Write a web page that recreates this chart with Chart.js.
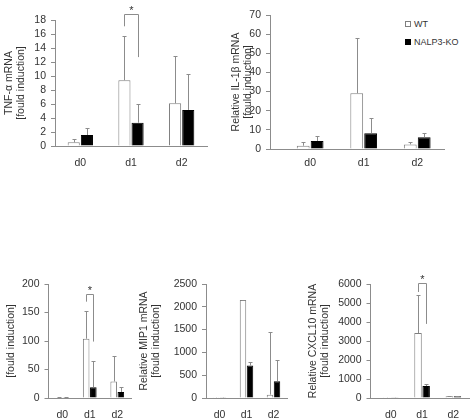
<!DOCTYPE html>
<html>
<head>
<meta charset="utf-8">
<script src="https://cdn.jsdelivr.net/npm/chart.js@4.4.1/dist/chart.umd.min.js"></script>
<style>
body { margin: 0; background: #fff; width: 471px; height: 420px; overflow: hidden; position: relative; font-family: "Liberation Sans", Arial, sans-serif; }
canvas { position: absolute; }
.legend { position: absolute; left: 405px; top: 15px; font-size: 9px; color: #333; line-height: 18px; }
.legend span { display: inline-block; width: 4px; height: 4px; border: 1px solid #7f7f7f; margin-right: 3px; vertical-align: middle; position: relative; top: -1px; }
</style>
</head>
<body>
<div class="legend" id="legend"></div>
<script>
// categories and series
var days = ["d0", "d1", "d2"];
var groups = ["WT", "NALP3-KO"];

// TNF-a
var tnfWt = [0.52, 9.4, 6.1];
var tnfWtSd = [0.45, 6.3, 6.8];
var tnfKo = [1.57, 3.33, 5.15];
var tnfKoSd = [0.95, 2.7, 5.15];

// IL-1b
var il1Wt = [1.7, 29.1, 2.4];
var il1WtSd = [1.8, 28.7, 1.4];
var il1Ko = [4.2, 8.2, 6.1];
var il1KoSd = [2.6, 7.8, 2.1];

// bottom left (label cut off)
var g3Wt = [0.8, 104, 29];
var g3WtSd = [0.3, 49, 44];
var g3Ko = [1.5, 18.7, 10.5];
var g3KoSd = [0.5, 46, 9.5];

// MIP1
var mipWt = [5, 2147, 74];
var mipWtSd = [3, 10, 1380];
var mipKo = [6, 713, 368];
var mipKoSd = [3, 87, 456];

// CXCL10
var cxWt = [10, 3420, 90];
var cxWtSd = [5, 2000, 20];
var cxKo = [10, 630, 90];
var cxKoSd = [5, 130, 20];

// significance brackets: [day index, top, left leg end, right leg end]
var tnfSig = [1, 18.9, 17.1, 12.7];
var g3Sig = [1, 182, 169, 99];
var cxSig = [1, 6050, 5580, 3900];

Chart.defaults.font.family = '"Liberation Sans", Arial, sans-serif';
Chart.defaults.font.size = 10;
Chart.defaults.color = '#333333';

var axisGrey = '#8c8c8c';

var errorBars = {
    id: 'errorBars',
    afterDatasetsDraw: function(chart) {
        var ctx = chart.ctx, y = chart.scales.y;
        ctx.save();
        ctx.strokeStyle = axisGrey;
        ctx.lineWidth = 1;
        chart.data.datasets.forEach(function(ds, i) {
            chart.getDatasetMeta(i).data.forEach(function(bar, j) {
                var top = Math.round(y.getPixelForValue(ds.data[j].y + ds.sd[j])) + 0.5;
                var x = Math.round(bar.x) + 0.5;
                ctx.beginPath();
                ctx.moveTo(x, bar.y);
                ctx.lineTo(x, top);
                ctx.moveTo(x - 2, top);
                ctx.lineTo(x + 2, top);
                ctx.stroke();
            });
        });
        ctx.restore();
    }
};

var sigBracket = {
    id: 'sigBracket',
    afterDatasetsDraw: function(chart, args, opts) {
        if (!opts.sig) return;
        var s = opts.sig, ctx = chart.ctx, y = chart.scales.y;
        var x1 = Math.round(chart.getDatasetMeta(0).data[s[0]].x) + 0.5;
        var x2 = Math.round(chart.getDatasetMeta(1).data[s[0]].x) + 0.5;
        var yt = Math.round(y.getPixelForValue(s[1])) + 0.5;
        ctx.save();
        ctx.strokeStyle = axisGrey;
        ctx.lineWidth = 1;
        ctx.beginPath();
        ctx.moveTo(x1, y.getPixelForValue(s[2]));
        ctx.lineTo(x1, yt);
        ctx.lineTo(x2, yt);
        ctx.lineTo(x2, y.getPixelForValue(s[3]));
        ctx.stroke();
        ctx.fillStyle = '#333333';
        ctx.font = '11px "Liberation Sans", Arial, sans-serif';
        ctx.textAlign = 'center';
        ctx.textBaseline = 'alphabetic';
        ctx.fillText('*', (x1 + x2) / 2, yt - 1);
        ctx.restore();
    }
};

function makeChart(cfg) {
    var padTop = 16, padRight = 6, xh = 30;
    var left = cfg.titleX - 6;
    var top = cfg.area[1] - padTop;
    var yw = cfg.area[0] - left;
    var cv = document.createElement('canvas');
    cv.width = Math.round(cfg.area[2] + padRight - left);
    cv.height = Math.round(cfg.area[3] + xh - top);
    cv.style.left = left + 'px';
    cv.style.top = top + 'px';
    document.body.appendChild(cv);

    new Chart(cv.getContext('2d'), {
        type: 'bar',
        data: {
            datasets: [{
                label: groups[0],
                data: cfg.wt.map(function(v, i) { return {x: i, y: v}; }),
                sd: cfg.wtSd,
                backgroundColor: '#ffffff',
                borderColor: '#7f7f7f',
                borderWidth: 1
            }, {
                label: groups[1],
                data: cfg.ko.map(function(v, i) { return {x: i, y: v}; }),
                sd: cfg.koSd,
                backgroundColor: '#000000',
                borderColor: '#000000',
                borderWidth: 1
            }]
        },
        options: {
            responsive: false,
            animation: false,
            events: [],
            categoryPercentage: 0.52,
            barPercentage: 0.92,
            layout: { padding: { top: padTop, right: padRight, left: 0, bottom: 0 } },
            plugins: {
                legend: { display: false },
                tooltip: { enabled: false },
                sigBracket: { sig: cfg.sig || null }
            },
            scales: {
                x: {
                    type: 'linear',
                    offset: false,
                    min: cfg.xMin,
                    max: 2.5,
                    afterBuildTicks: function(s) { s.ticks = days.map(function(d, i) { return {value: i}; }); },
                    afterFit: function(s) { s.height = xh; },
                    ticks: { callback: function(v) { return days[v]; }, padding: cfg.xPad, autoSkip: false, maxRotation: 0, font: { size: 10.5 } },
                    grid: { display: false, drawTicks: false, offset: false },
                    border: { color: axisGrey }
                },
                y: {
                    min: 0,
                    max: cfg.yMax,
                    afterFit: function(s) { s.width = yw; },
                    ticks: { stepSize: cfg.step, padding: 5, autoSkip: false, font: { size: 10.5 }, callback: function(v) { return String(v); } },
                    grid: { drawOnChartArea: false, tickLength: 4, color: axisGrey },
                    border: { color: axisGrey },
                    title: { display: true, text: cfg.title, padding: 0, font: { size: 10.5, lineHeight: 1.15 } }
                }
            }
        },
        plugins: [errorBars, sigBracket]
    });
}

makeChart({ area: [55, 20, 207, 146], titleX: 9, xMin: -0.5, yMax: 18, step: 2, xPad: 11,
    title: ['TNF-α mRNA', '[fould induction]'], wt: tnfWt, wtSd: tnfWtSd, ko: tnfKo, koSd: tnfKoSd, sig: tnfSig });
makeChart({ area: [270, 15, 444, 149], titleX: 236, xMin: -0.75, yMax: 70, step: 10, xPad: 8,
    title: ['Relative IL-1β mRNA', '[fould induction]'], wt: il1Wt, wtSd: il1WtSd, ko: il1Ko, koSd: il1KoSd });
makeChart({ area: [48, 284, 130, 398], titleX: 10.5, xMin: -0.5, yMax: 200, step: 50, xPad: 11,
    title: ['[fould induction]'], wt: g3Wt, wtSd: g3WtSd, ko: g3Ko, koSd: g3KoSd, sig: g3Sig });
makeChart({ area: [206, 284, 287, 398], titleX: 144, xMin: -0.5, yMax: 2500, step: 500, xPad: 11,
    title: ['Relative MIP1 mRNA', '[fould induction]'], wt: mipWt, wtSd: mipWtSd, ko: mipKo, koSd: mipKoSd });
makeChart({ area: [370, 284, 468, 398], titleX: 312.5, xMin: -0.65, yMax: 6000, step: 1000, xPad: 11,
    title: ['Relative CXCL10 mRNA', '[fould induction]'], wt: cxWt, wtSd: cxWtSd, ko: cxKo, koSd: cxKoSd, sig: cxSig });

// legend
var lg = document.getElementById('legend');
groups.forEach(function(g, i) {
    var row = document.createElement('div');
    var box = document.createElement('span');
    box.style.background = i === 0 ? '#ffffff' : '#000000';
    if (i === 1) box.style.borderColor = '#000000';
    row.appendChild(box);
    row.appendChild(document.createTextNode(g));
    lg.appendChild(row);
});
</script>
</body>
</html>
